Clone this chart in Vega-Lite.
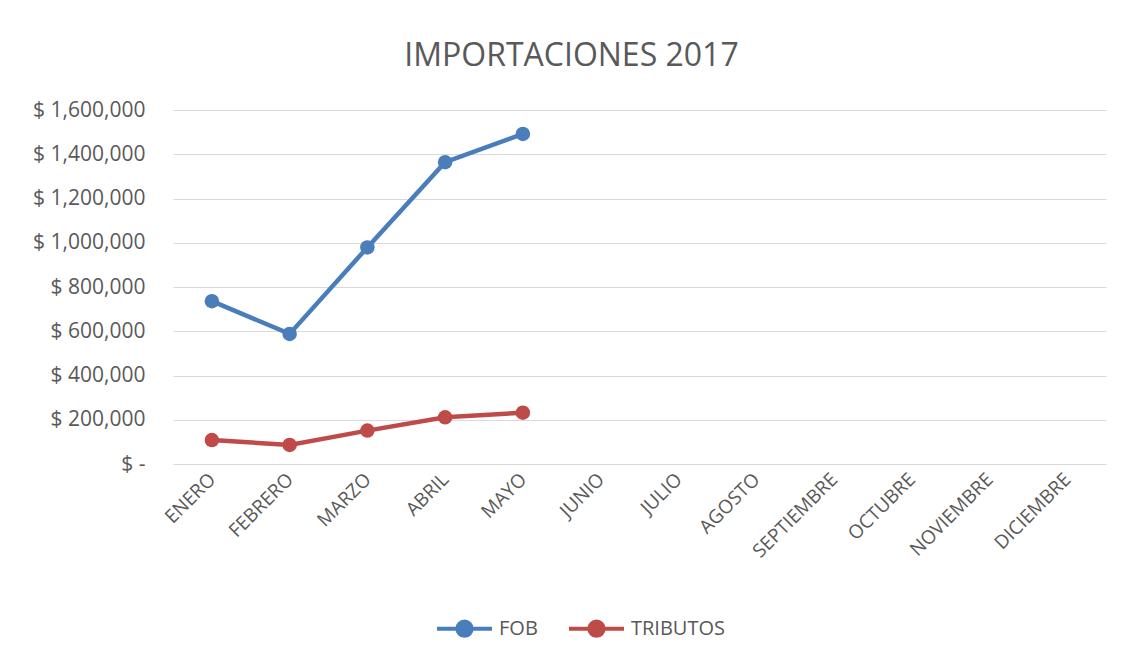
{
  "$schema": "https://vega.github.io/schema/vega-lite/v6.json",
  "width": 933,
  "height": 354,
  "autosize": {"type": "none"},
  "padding": {"left": 173, "top": 110, "right": 25, "bottom": 198},
  "background": "white",
  "title": {
    "text": "IMPORTACIONES 2017",
    "font": "Open Sans",
    "fontSize": 32,
    "fontWeight": "normal",
    "color": "#595959",
    "anchor": "middle",
    "dx": -68,
    "offset": 1,
    "baseline": "alphabetic"
  },
  "config": {
    "view": {"stroke": null},
    "font": "Open Sans"
  },
  "data": {
    "values": [
      {"mes": "ENERO", "serie": "FOB", "valor": 736000},
      {"mes": "FEBRERO", "serie": "FOB", "valor": 588000},
      {"mes": "MARZO", "serie": "FOB", "valor": 979000},
      {"mes": "ABRIL", "serie": "FOB", "valor": 1364000},
      {"mes": "MAYO", "serie": "FOB", "valor": 1492000},
      {"mes": "ENERO", "serie": "TRIBUTOS", "valor": 108000},
      {"mes": "FEBRERO", "serie": "TRIBUTOS", "valor": 86000},
      {"mes": "MARZO", "serie": "TRIBUTOS", "valor": 151000},
      {"mes": "ABRIL", "serie": "TRIBUTOS", "valor": 211000},
      {"mes": "MAYO", "serie": "TRIBUTOS", "valor": 232000}
    ]
  },
  "mark": {
    "type": "line",
    "strokeWidth": 4.5,
    "point": {"filled": true, "size": 210, "opacity": 1}
  },
  "encoding": {
    "x": {
      "field": "mes",
      "type": "nominal",
      "sort": null,
      "scale": {
        "domain": ["ENERO", "FEBRERO", "MARZO", "ABRIL", "MAYO", "JUNIO", "JULIO", "AGOSTO", "SEPTIEMBRE", "OCTUBRE", "NOVIEMBRE", "DICIEMBRE"],
        "paddingInner": 0,
        "paddingOuter": 0.5
      },
      "axis": {
        "title": null,
        "domain": false,
        "ticks": false,
        "grid": false,
        "labelAngle": -45,
        "labelAlign": "right",
        "labelBaseline": "middle",
        "labelPadding": 12,
        "labelFontSize": 19,
        "labelColor": "#595959",
        "labelFont": "Open Sans"
      }
    },
    "y": {
      "field": "valor",
      "type": "quantitative",
      "scale": {"domain": [0, 1600000], "nice": false},
      "axis": {
        "title": null,
        "domain": false,
        "ticks": false,
        "values": [0, 200000, 400000, 600000, 800000, 1000000, 1200000, 1400000, 1600000],
        "labelExpr": "datum.value == 0 ? '$ -' : '$ ' + format(datum.value, ',')",
        "labelPadding": 28,
        "labelFontSize": 21,
        "labelColor": "#595959",
        "labelFont": "Open Sans",
        "gridColor": "#d9d9d9",
        "gridWidth": 1.2
      }
    },
    "color": {
      "field": "serie",
      "type": "nominal",
      "scale": {"domain": ["FOB", "TRIBUTOS"], "range": ["#4a7ebb", "#be4b48"]},
      "legend": {
        "title": null,
        "orient": "none",
        "direction": "horizontal",
        "legendX": 262,
        "legendY": 489,
        "symbolType": "M-1,0L1,0M-0.26,0A0.26,0.26,0,1,1,0.26,0A0.26,0.26,0,1,1,-0.26,0Z",
        "symbolSize": 3025,
        "symbolStrokeWidth": 4,
        "symbolOpacity": 1,
        "labelFontSize": 20,
        "labelColor": "#595959",
        "labelFont": "Open Sans",
        "labelOffset": 5,
        "columnPadding": 23,
        "encode": {
          "symbols": {
            "update": {
              "fill": {"scale": "color", "field": "value"},
              "stroke": {"scale": "color", "field": "value"}
            }
          }
        }
      }
    }
  }
}
